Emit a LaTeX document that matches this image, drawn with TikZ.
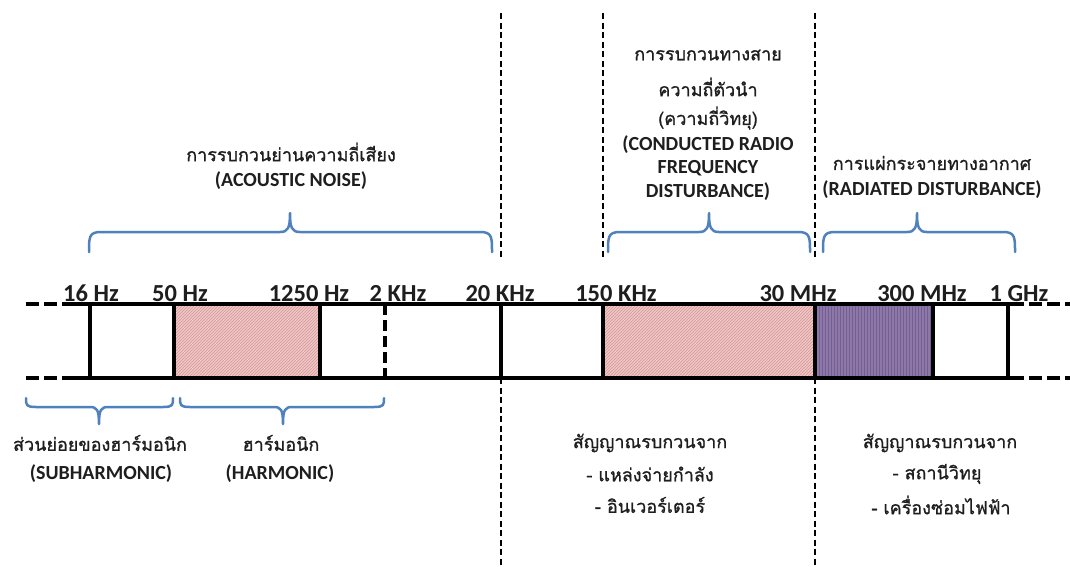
\documentclass[tikz,border=0pt]{standalone}
\usepackage{fontspec}
\setmainfont{Carlito}
\newfontfamily\thaifont[Script=Thai,FakeBold=1]{Loma}
\usetikzlibrary{patterns}
\definecolor{bracecol}{RGB}{79,129,189}
\definecolor{pinkbg}{RGB}{240,198,198}
\definecolor{pinkln}{RGB}{212,150,150}
\definecolor{purpbg}{RGB}{142,120,168}
\definecolor{purpln}{RGB}{116,95,148}
\definecolor{txt}{RGB}{30,30,30}
\newcommand\BraceUp[3]{%
  \draw[brc] (#1,252) .. controls (#1,237) and (#1,232) .. (#1+12,232) -- (#2-10,232)
    .. controls (#2-2,232) and (#2,228) .. (#2,213)
    .. controls (#2,228) and (#2+2,232) .. (#2+10,232) -- (#3-12,232)
    .. controls (#3,232) and (#3,237) .. (#3,252);}
\newcommand\BraceDown[3]{%
  \draw[brc] (#1,398) .. controls (#1,405) and (#1,407) .. (#1+10,407) -- (#2-9,407)
    .. controls (#2-2,407) and (#2,410) .. (#2,424)
    .. controls (#2,410) and (#2+2,407) .. (#2+9,407) -- (#3-10,407)
    .. controls (#3,407) and (#3,405) .. (#3,398);}
\begin{document}
\begin{tikzpicture}[x=1pt,y=-1pt,
  bandline/.style={line width=3.2pt, black},
  stub/.style={line width=3.2pt, dash pattern=on 13pt off 5pt},
  sepline/.style={line width=2.8pt, dash pattern=on 6pt off 3.5pt},
  brc/.style={bracecol, line width=2.5pt, line cap=round, line join=round},
  freq/.style={font=\fontsize{24.5}{26}\selectfont\bfseries, anchor=base, inner sep=0pt, text=txt},
  en/.style={font=\fontsize{20}{24}\selectfont\bfseries, inner sep=0pt, text=txt},
  th/.style={font=\thaifont\fontsize{18}{22}\selectfont, inner sep=0pt, text=txt},
]
\useasboundingbox (0,0) rectangle (1070,566);
% coloured bands
\fill[pinkbg] (174,304) rectangle (320,378);
\fill[pattern=north east lines, pattern color=pinkln] (174,304) rectangle (320,378);
\fill[pinkbg] (603,304) rectangle (815,378);
\fill[pattern=north east lines, pattern color=pinkln] (603,304) rectangle (815,378);
\fill[purpbg] (815,304) rectangle (933,378);
\fill[pattern=vertical lines, pattern color=purpln] (815,304) rectangle (933,378);
% separators
\draw[sepline] (501,13) -- (501,258);
\draw[sepline] (603,13) -- (603,258);
\draw[sepline] (815,13) -- (815,258);
\draw[sepline] (501,378) -- (501,566);
\draw[sepline] (815,378) -- (815,566);
% band
\draw[bandline] (74,304) -- (1011,304);
\draw[bandline] (74,378) -- (1011,378);
\draw[stub] (26,304) -- (74,304);
\draw[stub] (26,378) -- (74,378);
\draw[stub] (1011,304) -- (1070,304);
\draw[stub] (1011,378) -- (1070,378);
\foreach \x in {90,174,320,501,603,815,933,1008}
  \draw[bandline] (\x,304) -- (\x,378);
\draw[line width=3.2pt, dash pattern=on 11pt off 5pt] (385,304) -- (385,378);
% frequency labels
\node[freq] (f16) at (91,301) {16 Hz};
\node[freq] (f50) at (180,301) {50 Hz};
\node[freq] (f1250) at (309,301) {1250 Hz};
\node[freq] (f2k) at (398,301) {2 KHz};
\node[freq] (f20k) at (500,301) {20 KHz};
\node[freq] (f150k) at (616,301) {150 KHz};
\node[freq] (f30m) at (798,301) {30 MHz};
\node[freq] (f300m) at (922,301) {300 MHz};
\node[freq] (f1g) at (1019,301) {1 GHz};
% braces
\BraceUp{89}{290}{492}
\BraceUp{608}{709}{810}
\BraceUp{823}{917}{1015}
\BraceDown{26}{99}{173}
\BraceDown{180}{283}{384}
% upper texts
\node[th] (acth) at (291,152) {การรบกวนย่านความถี่เสียง};
\node[en] (acen) at (291,181) {(ACOUSTIC NOISE)};
\node[th] (co1) at (708,55) {การรบกวนทางสาย};
\node[th] (co2) at (708,87) {ความถี่ตัวนำ};
\node[th] (co3) at (708,118) {(ความถี่วิทยุ)};
\node[en] (co4) at (708,145) {(CONDUCTED RADIO};
\node[en] (co5) at (708,168) {FREQUENCY};
\node[en] (co6) at (708,192) {DISTURBANCE)};
\node[th] (rath) at (932,163) {การแผ่กระจายทางอากาศ};
\node[en] (raen) at (932,190) {(RADIATED DISTURBANCE)};
% lower texts
\node[th] (subth) at (100,443) {ส่วนย่อยของฮาร์มอนิก};
\node[en] (suben) at (101,474) {(SUBHARMONIC)};
\node[th] (harth) at (281,443) {ฮาร์มอนิก};
\node[en] (haren) at (280,474) {(HARMONIC)};
\node[th] (ci1) at (650,443) {สัญญาณรบกวนจาก};
\node[th] (ci2) at (650,474) {- แหล่งจ่ายกำลัง};
\node[th] (ci3) at (650,505) {- อินเวอร์เตอร์};
\node[th] (ri1) at (940,443) {สัญญาณรบกวนจาก};
\node[th] (ri2) at (937,474) {- สถานีวิทยุ};
\node[th] (ri3) at (941,505) {- เครื่องซ่อมไฟฟ้า};
\end{tikzpicture}
\end{document}
